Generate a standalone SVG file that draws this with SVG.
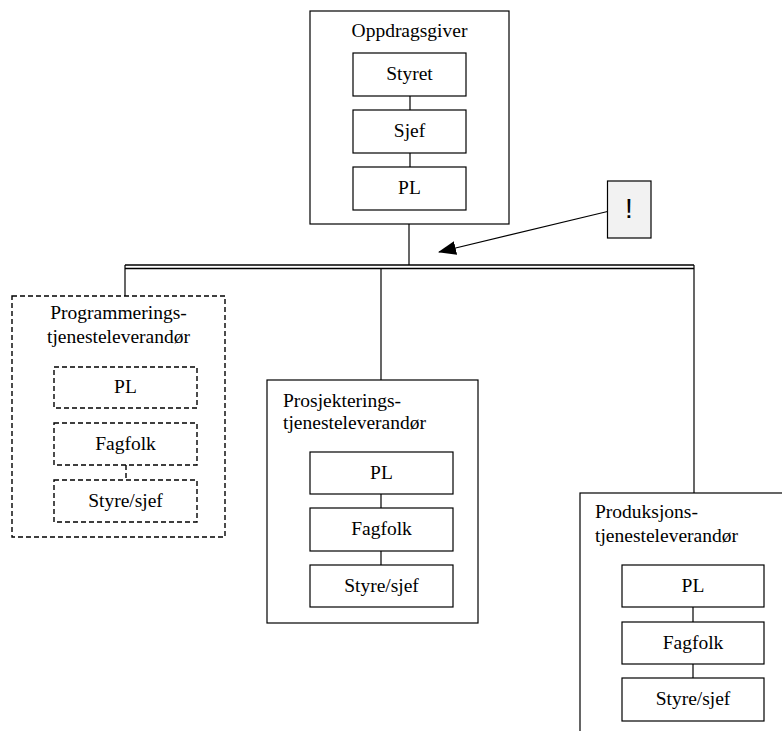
<svg xmlns="http://www.w3.org/2000/svg" width="782" height="731" viewBox="0 0 782 731">
<style>
.box{fill:#fff;stroke:#000;stroke-width:1.2}
.dbox{fill:#fff;stroke:#000;stroke-width:1.4;stroke-dasharray:5 3}
.t{font-family:"Liberation Serif","Times New Roman",serif;font-size:19.5px;fill:#000}
.c{text-anchor:middle}
.ln{stroke:#000;stroke-width:1.2;fill:none}
.dln{stroke:#000;stroke-width:1.4;fill:none;stroke-dasharray:5 3}
</style>
<defs>
<marker id="ah" markerWidth="18" markerHeight="14" refX="17" refY="7" orient="auto" markerUnits="userSpaceOnUse">
<path d="M0,0 L18,7 L0,14 Z" fill="#000"/>
</marker>
</defs>
<g id="oppdragsgiver">
<rect class="box" x="310" y="11" width="199" height="213"/>
<text class="t c" x="409.5" y="37">Oppdragsgiver</text>
</g>
<g id="styret"><rect class="box" x="353" y="53" width="113" height="43"/><text class="t c" x="409.5" y="80">Styret</text></g>
<g id="sjef"><rect class="box" x="353" y="110" width="113" height="43"/><text class="t c" x="409.5" y="137">Sjef</text></g>
<g id="pl-top"><rect class="box" x="353" y="167" width="113" height="43"/><text class="t c" x="409.5" y="194">PL</text></g>
<g id="note"><rect x="607.5" y="181" width="43.5" height="57" fill="#f2f2f2" stroke="#000" stroke-width="1.2"/><text x="629" y="217.5" text-anchor="middle" font-family="'Liberation Sans',Arial,sans-serif" font-size="28">!</text></g>
<g id="programmering">
<rect class="dbox" x="12" y="296" width="213" height="241"/>
<text class="t c" x="118.5" y="319">Programmerings-</text>
<text class="t c" x="118.5" y="343">tjenesteleverandør</text>
</g>
<g id="prog-pl"><rect class="dbox" x="54" y="367" width="143" height="41"/><text class="t c" x="125.5" y="393">PL</text></g>
<g id="prog-fagfolk"><rect class="dbox" x="54" y="423" width="143" height="42"/><text class="t c" x="125.5" y="450">Fagfolk</text></g>
<g id="prog-styre"><rect class="dbox" x="54" y="480" width="143" height="42"/><text class="t c" x="125.5" y="507">Styre/sjef</text></g>
<g id="prosjektering">
<rect class="box" x="267" y="380" width="211" height="243"/>
<text class="t" x="283" y="407">Prosjekterings-</text>
<text class="t" x="283" y="429">tjenesteleverandør</text>
</g>
<g id="pros-pl"><rect class="box" x="310" y="452" width="143" height="42"/><text class="t c" x="381.5" y="479">PL</text></g>
<g id="pros-fagfolk"><rect class="box" x="310" y="508" width="143" height="43"/><text class="t c" x="381.5" y="535">Fagfolk</text></g>
<g id="pros-styre"><rect class="box" x="310" y="565" width="143" height="42"/><text class="t c" x="381.5" y="592">Styre/sjef</text></g>
<g id="produksjon">
<rect class="box" x="580" y="493" width="220" height="250"/>
<text class="t" x="595" y="518">Produksjons-</text>
<text class="t" x="595" y="542">tjenesteleverandør</text>
</g>
<g id="prod-pl"><rect class="box" x="622" y="565" width="142" height="42"/><text class="t c" x="693" y="592">PL</text></g>
<g id="prod-fagfolk"><rect class="box" x="622" y="622" width="142" height="42"/><text class="t c" x="693" y="649">Fagfolk</text></g>
<g id="prod-styre"><rect class="box" x="622" y="678" width="142" height="43"/><text class="t c" x="693" y="705">Styre/sjef</text></g>
<g id="connectors">
<line class="ln" x1="409" y1="224" x2="409" y2="265"/>
<line x1="125" y1="265" x2="694" y2="265" stroke="#000" stroke-width="1.6"/>
<line x1="125" y1="268.5" x2="694" y2="268.5" stroke="#000" stroke-width="1.4"/>
<line class="ln" x1="125" y1="265" x2="125" y2="296"/>
<line class="ln" x1="381" y1="268.5" x2="381" y2="380"/>
<line class="ln" x1="694" y1="265" x2="694" y2="493"/>
<line class="ln" x1="410" y1="96" x2="410" y2="110"/>
<line class="ln" x1="410" y1="153" x2="410" y2="167"/>
<line class="ln" x1="381" y1="494" x2="381" y2="508"/>
<line class="ln" x1="381" y1="551" x2="381" y2="565"/>
<line class="ln" x1="693" y1="607" x2="693" y2="622"/>
<line class="ln" x1="693" y1="664" x2="693" y2="678"/>
<line class="dln" x1="126" y1="465" x2="126" y2="480"/>
<line class="ln" x1="607.5" y1="211.5" x2="439" y2="252" marker-end="url(#ah)"/>
</g>
</svg>
